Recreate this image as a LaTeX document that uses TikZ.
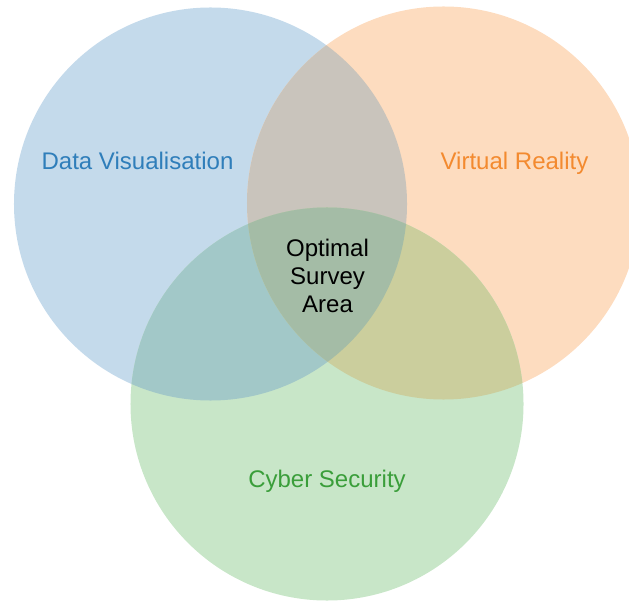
\documentclass[tikz,border=0pt]{standalone}
\usepackage{fontspec}
\setmainfont{Liberation Sans}
\usepackage{xcolor}
\definecolor{dv-fill}{HTML}{C4DAEB}
\definecolor{vr-fill}{HTML}{FDDCBF}
\definecolor{cs-fill}{HTML}{C8E6C8}
\definecolor{dv-vr-fill}{HTML}{C9C4BC}
\definecolor{dv-cs-fill}{HTML}{A2C8C8}
\definecolor{vr-cs-fill}{HTML}{CBCE9D}
\definecolor{all-fill}{HTML}{A4BCA6}
\definecolor{dv-text}{HTML}{2F7EBA}
\definecolor{vr-text}{HTML}{F38A2F}
\definecolor{cs-text}{HTML}{3A9E3A}
\tikzset{
    set-label/.style = {font=\fontsize{20.5}{24}\selectfont, align=center, inner sep=0pt},
    set-radius/.style = {radius=5.895cm},
}

\begin{document}
\begin{tikzpicture}[x=0.03cm, y=-0.03cm]
\useasboundingbox (0,0) rectangle (629,601);
\clip (0,0) rectangle (629,601);
\coordinate (dv) at (210.5,204);
\coordinate (vr) at (443.5,203);
\coordinate (cs) at (327,404);
% the three sets
\fill[dv-fill] (dv) circle [set-radius];
\fill[vr-fill] (vr) circle [set-radius];
\fill[cs-fill] (cs) circle [set-radius];
% pairwise overlaps
\begin{scope}
    \clip (dv) circle [set-radius];
    \fill[dv-vr-fill] (vr) circle [set-radius];
    \fill[dv-cs-fill] (cs) circle [set-radius];
\end{scope}
\begin{scope}
    \clip (vr) circle [set-radius];
    \fill[vr-cs-fill] (cs) circle [set-radius];
\end{scope}
% centre overlap
\begin{scope}
    \clip (dv) circle [set-radius];
    \clip (vr) circle [set-radius];
    \fill[all-fill] (cs) circle [set-radius];
\end{scope}
\node[set-label, text=dv-text, anchor=base] (dv-label) at (137.5,170) {Data Visualisation};
\node[set-label, text=vr-text, anchor=base] (vr-label) at (514.5,170) {Virtual Reality};
\node[set-label, text=cs-text, anchor=base] (cs-label) at (327,487) {Cyber Security};
\node[set-label] (optimal) at (327.5,276) {Optimal\\Survey\\Area};
\end{tikzpicture}
\end{document}
